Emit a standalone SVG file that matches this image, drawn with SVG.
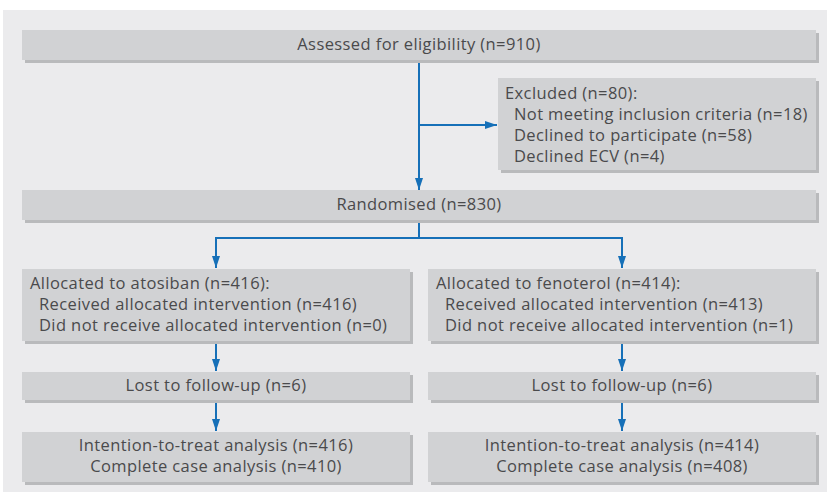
<svg xmlns="http://www.w3.org/2000/svg" width="827" height="492" viewBox="0 0 827 492">
<defs>
<style>
.bg{fill:#ebebed}
.box{fill:#d1d2d4}
.sh{fill:#b9babc}
text{font-family:"Open Sans","Liberation Sans",sans-serif;font-size:16.5px;letter-spacing:0.4px;fill:#4a4a4c}
.c{text-anchor:middle}
.ln{stroke:#1670b8;stroke-width:2;fill:none}
</style>
<marker id="ah" viewBox="0 0 12 8" refX="12" refY="4" markerWidth="12" markerHeight="8" markerUnits="userSpaceOnUse" orient="auto">
<path d="M0,0 L12,4 L0,8 Z" fill="#1670b8"/>
</marker>
</defs>
<rect class="bg" x="3" y="10" width="824" height="482"/>
<g id="connectors">
<path class="ln" d="M419,60 V190" marker-end="url(#ah)"/>
<path class="ln" d="M419,125 H497" marker-end="url(#ah)"/>
<path class="ln" d="M419,220 V238 H216 V268" marker-end="url(#ah)"/>
<path class="ln" d="M419,238 H622 V268" marker-end="url(#ah)"/>
<path class="ln" d="M216,341 V371" marker-end="url(#ah)"/>
<path class="ln" d="M622,341 V371" marker-end="url(#ah)"/>
<path class="ln" d="M216,400 V431" marker-end="url(#ah)"/>
<path class="ln" d="M622,400 V431" marker-end="url(#ah)"/>
</g>
<g id="assessed">
<rect class="sh" x="25" y="33" width="794" height="30"/>
<rect class="box" x="22" y="30" width="794" height="30"/>
<text class="c" x="419" y="50">Assessed for eligibility (n=910)</text>
</g>
<g id="excluded">
<rect class="sh" x="501" y="81" width="318" height="92"/>
<rect class="box" x="498" y="78" width="318" height="92"/>
<text x="505" y="99">Excluded (n=80):</text>
<text x="514" y="120">Not meeting inclusion criteria (n=18)</text>
<text x="514" y="141">Declined to participate (n=58)</text>
<text x="514" y="162">Declined ECV (n=4)</text>
</g>
<g id="randomised">
<rect class="sh" x="25" y="193" width="794" height="30"/>
<rect class="box" x="22" y="190" width="794" height="30"/>
<text class="c" x="419" y="210">Randomised (n=830)</text>
</g>
<g id="atosiban">
<rect class="sh" x="25" y="272" width="388" height="72"/>
<rect class="box" x="22" y="269" width="388" height="72"/>
<text x="30" y="289">Allocated to atosiban (n=416):</text>
<text x="39" y="310">Received allocated intervention (n=416)</text>
<text x="39" y="331">Did not receive allocated intervention (n=0)</text>
</g>
<g id="fenoterol">
<rect class="sh" x="431" y="272" width="388" height="72"/>
<rect class="box" x="428" y="269" width="388" height="72"/>
<text x="436" y="289">Allocated to fenoterol (n=414):</text>
<text x="445" y="310">Received allocated intervention (n=413)</text>
<text x="445" y="331">Did not receive allocated intervention (n=1)</text>
</g>
<g id="lost-left">
<rect class="sh" x="25" y="375" width="388" height="28"/>
<rect class="box" x="22" y="372" width="388" height="28"/>
<text class="c" x="216" y="391">Lost to follow-up (n=6)</text>
</g>
<g id="lost-right">
<rect class="sh" x="431" y="375" width="388" height="28"/>
<rect class="box" x="428" y="372" width="388" height="28"/>
<text class="c" x="622" y="391">Lost to follow-up (n=6)</text>
</g>
<g id="analysis-left">
<rect class="sh" x="25" y="435" width="388" height="50"/>
<rect class="box" x="22" y="432" width="388" height="50"/>
<text class="c" x="216" y="451">Intention-to-treat analysis (n=416)</text>
<text class="c" x="216" y="472">Complete case analysis (n=410)</text>
</g>
<g id="analysis-right">
<rect class="sh" x="431" y="435" width="388" height="50"/>
<rect class="box" x="428" y="432" width="388" height="50"/>
<text class="c" x="622" y="451">Intention-to-treat analysis (n=414)</text>
<text class="c" x="622" y="472">Complete case analysis (n=408)</text>
</g>
</svg>
